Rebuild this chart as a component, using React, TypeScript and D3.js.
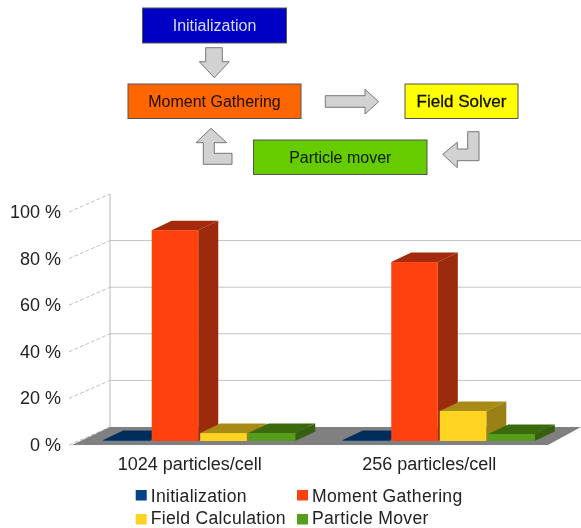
import React from "react";
import * as d3 from "d3";

const categories = ["1024 particles/cell", "256 particles/cell"];
const seriesNames = ["Initialization", "Moment Gathering", "Field Calculation", "Particle Mover"];
const initialization = [0.4, 0.4];
const momentGathering = [90.5, 76.8];
const fieldCalculation = [3.4, 12.9];
const particleMover = [3.4, 3];
const seriesValues = [initialization, momentGathering, fieldCalculation, particleMover];
const frontColors = ["#004586", "#ff420e", "#ffd320", "#579d1c"];
const sideColors = ["#002a52", "#9c2a08", "#9b8013", "#35600f"];
const topColors = ["#002f5c", "#a32c08", "#a88b14", "#3a6a10"];
const percentTicks = [0, 20, 40, 60, 80, 100];

const boxes = [
  { label: "Initialization", x: 142.5, y: 8, w: 144, h: 35, fill: "#0000c4", text: "#d8dcff", size: 16, heavy: 0 },
  { label: "Moment Gathering", x: 128, y: 84, w: 173, h: 34.5, fill: "#ff6600", text: "#1a0c00", size: 16, heavy: 0 },
  { label: "Field Solver", x: 405, y: 84, w: 113, h: 34.5, fill: "#ffff00", text: "#111100", size: 17, heavy: 0.3 },
  { label: "Particle mover", x: 253.5, y: 140, w: 173.5, h: 34.5, fill: "#66cc00", text: "#0c1a00", size: 16, heavy: 0 },
];

const arrowPoints: [number, number][][] = [
  [[205.7, 47.7], [222.3, 47.7], [222.3, 61.7], [229.3, 61.7], [214.3, 77.7], [199.3, 61.7], [205.7, 61.7]],
  [[325.3, 95.7], [365, 95.7], [365, 89.3], [378.7, 101.7], [365, 114], [365, 107.3], [325.3, 107.3]],
  [[211, 128.3], [226.7, 142.7], [214.3, 142.7], [214.3, 153.3], [232, 153.3], [232, 164.3], [203.3, 164.3], [203.3, 142.7], [196, 142.7]],
  [[479, 131.7], [479, 160.7], [457.3, 160.7], [457.3, 167.7], [442.7, 154.3], [457.3, 142.3], [457.3, 149], [467.7, 149], [467.7, 131.7]],
];

const FONT = "'Liberation Sans', Arial, sans-serif";
const DEPTH_X = 20;
const DEPTH_Y = 9.5;

export default function App() {
  const yFront = d3.scaleLinear().domain([0, 100]).range([441, 208]);
  const wall = (v: number) => yFront(v) - 14;
  const labelY = (v: number) => yFront(v) + 10;
  const xGroup = d3.scaleBand<string>().domain(categories).range([79.5, 558.5]).paddingInner(47.5 / 239.5).paddingOuter(0.099);
  const xBar = d3.scaleBand<string>().domain(seriesNames).range([0, xGroup.bandwidth()]).paddingInner(0.04);
  const wallX = 110;
  const pts = (p: [number, number][]) => p.map((q) => q.join(",")).join(" ");
  const line = d3.line();

  return (
    <svg width={581} height={528} style={{ position: "absolute", left: 0, top: 0, background: "#fff" }} fontFamily={FONT}>
      <defs>
        <filter id="soft" x="-5%" y="-5%" width="110%" height="110%">
          <feGaussianBlur stdDeviation="0.55" />
        </filter>
      </defs>
      <g filter="url(#soft)">
        {boxes.map((b) => (
          <g key={b.label}>
            <rect x={b.x} y={b.y} width={b.w} height={b.h} fill={b.fill} stroke="#555" strokeWidth={1} />
            <text x={b.x + b.w / 2} y={b.y + b.h / 2 + 5.5} textAnchor="middle" fontSize={b.size} fill={b.text} stroke={b.heavy ? b.text : "none"} strokeWidth={b.heavy}>{b.label}</text>
          </g>
        ))}
        {arrowPoints.map((a, i) => (
          <polygon key={i} points={pts(a)} fill="#d2d2d2" stroke="#777" strokeWidth={1} />
        ))}

        {percentTicks.map((t) => (
          <g key={t}>
            {t > 0 && t < 100 && <line x1={wallX} x2={581} y1={wall(t)} y2={wall(t)} stroke="#c4c4c4" strokeWidth={1} />}
            <path d={line([[69, yFront(t) + 4], [wallX, wall(t)]]) ?? ""} fill="none" stroke="#c0c0c0" strokeWidth={1} strokeDasharray="4 2" />
            <text x={61} y={labelY(t)} textAnchor="end" fontSize={18} fill="#222">{t} %</text>
          </g>
        ))}
        <line x1={wallX} x2={wallX} y1={wall(100)} y2={wall(0)} stroke="#b8b8b8" strokeWidth={1} />
        <polygon points={pts([[72, yFront(0) + 4], [548, yFront(0) + 4], [581, wall(0)], [wallX, wall(0)]])} fill="#808080" />

        {categories.map((c, ci) =>
          seriesNames.map((s, si) => {
            const x0 = (xGroup(c) ?? 0) + (xBar(s) ?? 0);
            const x1 = x0 + xBar.bandwidth();
            const y0 = yFront(0);
            const yT = yFront(seriesValues[si][ci]);
            return (
              <g key={c + s}>
                <polygon points={pts([[x0, yT], [x1, yT], [x1 + DEPTH_X, yT - DEPTH_Y], [x0 + DEPTH_X, yT - DEPTH_Y]])} fill={topColors[si]} />
                <polygon points={pts([[x1, yT], [x1 + DEPTH_X, yT - DEPTH_Y], [x1 + DEPTH_X, y0 - DEPTH_Y], [x1, y0]])} fill={sideColors[si]} />
                <rect x={x0} y={yT} width={x1 - x0} height={y0 - yT} fill={frontColors[si]} />
              </g>
            );
          })
        )}

        {categories.map((c) => (
          <text key={c} x={(xGroup(c) ?? 0) + xGroup.bandwidth() / 2 - 9.5} y={470} textAnchor="middle" fontSize={18} fill="#222">{c}</text>
        ))}

        {seriesNames.map((s, i) => {
          const col = i % 2 === 0 ? 135.7 : 297;
          const rowY = i < 2 ? 490 : 514;
          const baseline = i < 2 ? 501.5 : 524.2;
          return (
            <g key={s}>
              <rect x={col} y={rowY} width={11} height={10.5} fill={frontColors[i]} />
              <text x={col + 15} y={baseline} fontSize={17.6} fill="#222" letterSpacing={0.3}>{s}</text>
            </g>
          );
        })}
      </g>
    </svg>
  );
}
